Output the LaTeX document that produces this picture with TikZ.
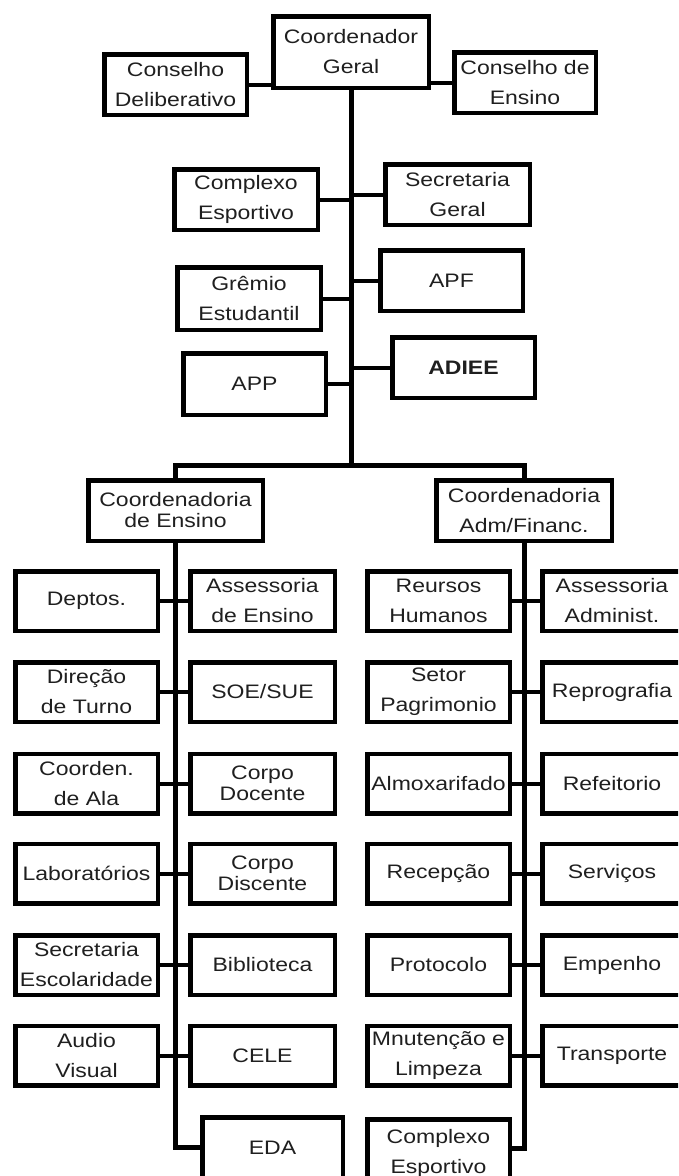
\documentclass[tikz,border=0pt]{standalone}
\usepackage{fontspec}
\setmainfont{Liberation Sans}[FakeStretch=1.18]
\begin{document}
\begin{tikzpicture}[x=1pt,y=-1pt,
  box/.style={draw=black, line width=4.5pt, rectangle, inner sep=0pt, align=center,
              text=black!88, font=\fontsize{19.5}{30}\selectfont},
  tight/.style={font=\fontsize{19.5}{21}\selectfont},
  trunk/.style={draw=black, line width=5pt},
  link/.style={draw=black, line width=4pt},
  colA/.style={box, minimum width=142.5pt, minimum height=59.5pt},
  colB/.style={box, minimum width=144.5pt, minimum height=59.5pt},
  colC/.style={box, minimum width=142.5pt, minimum height=59.5pt},
  colD/.style={box, minimum width=139.5pt, minimum height=59.5pt}]
\clip (0,0) rectangle (678,1176);
\fill[white] (0,0) rectangle (678,1176);

% ---- top level ----
\node[box, minimum width=155.5pt, minimum height=71.5pt] (cg) at (351,52) {Coordenador\\Geral};
\node[box, minimum width=142.5pt, minimum height=60.5pt] (cd) at (175.5,84.5) {Conselho\\Deliberativo};
\node[box, minimum width=141.5pt, minimum height=60.5pt] (ce) at (525,82.5) {Conselho de\\Ensino};

\node[box, minimum width=143.5pt, minimum height=60.5pt] (cx1) at (246,199.5) {Complexo\\Esportivo};
\node[box, minimum width=144.5pt, minimum height=60.5pt] (sg) at (457.5,194.5) {Secretaria\\Geral};
\node[box, minimum width=143.5pt, minimum height=62.5pt] (gr) at (249,298.5) {Grêmio\\Estudantil};
\node[box, minimum width=142.5pt, minimum height=60.5pt] (apf) at (451.5,280.5) {APF};
\node[box, minimum width=142.5pt, minimum height=61.5pt] (app) at (254.5,384) {APP};
\node[box, minimum width=142.5pt, minimum height=60.5pt] (adiee) at (463.5,367.5) {\bfseries ADIEE};

\node[box, tight, minimum width=174.5pt, minimum height=60.5pt] (coe) at (175.5,510.5) {Coordenadoria\\de Ensino};
\node[box, minimum width=175.5pt, minimum height=60.5pt] (caf) at (524,510.5) {Coordenadoria\\Adm/Financ.};

% ---- left group ----
\node[colA] (a1) at (86.5,601) {Deptos.};
\node[colA] (a2) at (86.5,692) {Direção\\de Turno};
\node[colA] (a3) at (86.5,783.5) {Coorden.\\de Ala};
\node[colA] (a4) at (86.5,873.5) {Laboratórios};
\node[colA] (a5) at (86.5,965) {Secretaria\\Escolaridade};
\node[colA] (a6) at (86.5,1055.5) {Audio\\Visual};

\node[colB] (b1) at (262.5,601) {Assessoria\\de Ensino};
\node[colB] (b2) at (262.5,692) {SOE/SUE};
\node[colB, tight] (b3) at (262.5,783.5) {Corpo\\Docente};
\node[colB, tight] (b4) at (262.5,873.5) {Corpo\\Discente};
\node[colB] (b5) at (262.5,965) {Biblioteca};
\node[colB] (b6) at (262.5,1055.5) {CELE};
\node[box, minimum width=140.5pt, minimum height=60.5pt] (eda) at (272.5,1147.5) {EDA};

% ---- right group ----
\node[colC] (c1) at (438.5,601) {Reursos\\Humanos};
\node[colC] (c2) at (438.5,692) {Setor\\Pagrimonio};
\node[colC] (c3) at (438.5,783.5) {Almoxarifado};
\node[colC] (c4) at (438.5,873.5) {Recepção};
\node[colC] (c5) at (438.5,965) {Protocolo};
\node[colC] (c6) at (438.5,1055.5) {Mnutenção e\\Limpeza};
\node[box, minimum width=142.5pt, minimum height=67.5pt] (cx2) at (438.5,1153) {Complexo\\Esportivo};

\node[colD] (d1) at (612,601) {Assessoria\\Administ.};
\node[colD] (d2) at (612,692) {Reprografia};
\node[colD] (d3) at (612,783.5) {Refeitorio};
\node[colD] (d4) at (612,873.5) {Serviços};
\node[colD] (d5) at (612,965) {Empenho};
\node[colD] (d6) at (612,1055.5) {Transporte};

% ---- trunk lines ----
\coordinate (mt) at (351,0);
\coordinate (bar) at (351,465);
\coordinate (barL) at (175.5,465);
\coordinate (barR) at (524,465);
\coordinate (lt) at (175.5,0);
\coordinate (rt) at (524,0);
\coordinate (lend) at (175.5,1147.5);
\coordinate (rend) at (524,1148);

\draw[trunk] (cg.south) -- (bar);
\draw[trunk, line cap=rect] (barL) -- (barR);
\draw[trunk] (barL) -- (coe.north);
\draw[trunk] (barR) -- (caf.north);
\draw[trunk, line join=miter] (coe.south) -- (lend) -- (eda.west);
\draw[trunk, line join=miter] (caf.south) -- (rend) -- (cx2.east |- rend);

% ---- connectors, top ----
\draw[link] (cd.east) -- (cg.west |- cd.east);
\draw[link] (ce.west) -- (cg.east |- ce.west);
\foreach \n in {cx1,gr,app}{\draw[link] (\n.east) -- (\n.east -| mt);}
\foreach \n in {sg,apf,adiee}{\draw[link] (\n.west) -- (\n.west -| mt);}

% ---- connectors, lower ----
\foreach \n in {a1,a2,a3,a4,a5,a6}{\draw[link] (\n.east) -- (\n.east -| lt);}
\foreach \n in {b1,b2,b3,b4,b5,b6}{\draw[link] (\n.west) -- (\n.west -| lt);}
\foreach \n in {c1,c2,c3,c4,c5,c6}{\draw[link] (\n.east) -- (\n.east -| rt);}
\foreach \n in {d1,d2,d3,d4,d5,d6}{\draw[link] (\n.west) -- (\n.west -| rt);}
\end{tikzpicture}
\end{document}
